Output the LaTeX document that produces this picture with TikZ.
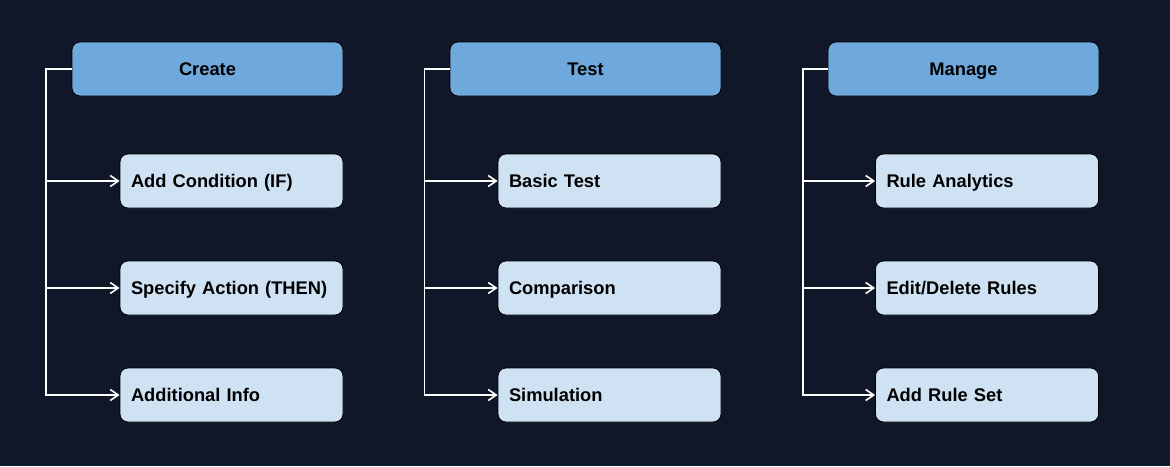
\documentclass[tikz,border=0pt]{standalone}
\usepackage{fontspec}
\setmainfont{Liberation Sans}
\usetikzlibrary{arrows.meta}
\definecolor{bgc}{HTML}{0F1729}
\definecolor{headc}{HTML}{6FA8DC}
\definecolor{childc}{HTML}{CFE2F3}
\tikzset{
  box/.style={draw=black, line width=0.8pt, rounded corners=8pt, font=\fontsize{18.3}{22}\selectfont\bfseries, text=black, minimum height=54pt, inner sep=0pt, text height=17pt, text depth=4pt},
  head/.style={box, fill=headc, minimum width=271pt, align=center},
  child/.style={box, fill=childc, minimum width=223pt, text width=201pt, align=left, inner xsep=11pt},
  conn/.style={draw=white, line width=1.6pt},
  arr/.style={conn, -{Straight Barb[length=8pt, width=11pt, line width=1.6pt]}}
}
\begin{document}
\begin{tikzpicture}[x=1pt, y=-1pt]
\fill[bgc] (0,0) rectangle (1170,466);
\useasboundingbox (0,0) rectangle (1170,466);

% Column 1
\node[head] (h1) at (207.5,69) {Create};
\node[child] (c11) at (231.5,181) {Add Condition (IF)};
\node[child] (c12) at (231.5,288) {Specify Action (THEN)};
\node[child] (c13) at (231.5,395) {Additional Info};
\coordinate (v1) at (46,69);
\draw[arr] (h1.west) -- (v1) |- (c13.west);
\draw[arr] (v1 |- c11.west) -- (c11.west);
\draw[arr] (v1 |- c12.west) -- (c12.west);

% Column 2
\node[head] (h2) at (585.5,69) {Test};
\node[child] (c21) at (609.5,181) {Basic Test};
\node[child] (c22) at (609.5,288) {Comparison};
\node[child] (c23) at (609.5,395) {Simulation};
\coordinate (v2) at (424.5,69);
\draw[arr] (h2.west) -- (v2) |- (c23.west);
\draw[arr] (v2 |- c21.west) -- (c21.west);
\draw[arr] (v2 |- c22.west) -- (c22.west);

% Column 3
\node[head] (h3) at (963.5,69) {Manage};
\node[child] (c31) at (987,181) {Rule Analytics};
\node[child] (c32) at (987,288) {Edit/Delete Rules};
\node[child] (c33) at (987,395) {Add Rule Set};
\coordinate (v3) at (803,69);
\draw[arr] (h3.west) -- (v3) |- (c33.west);
\draw[arr] (v3 |- c31.west) -- (c31.west);
\draw[arr] (v3 |- c32.west) -- (c32.west);
\end{tikzpicture}
\end{document}
